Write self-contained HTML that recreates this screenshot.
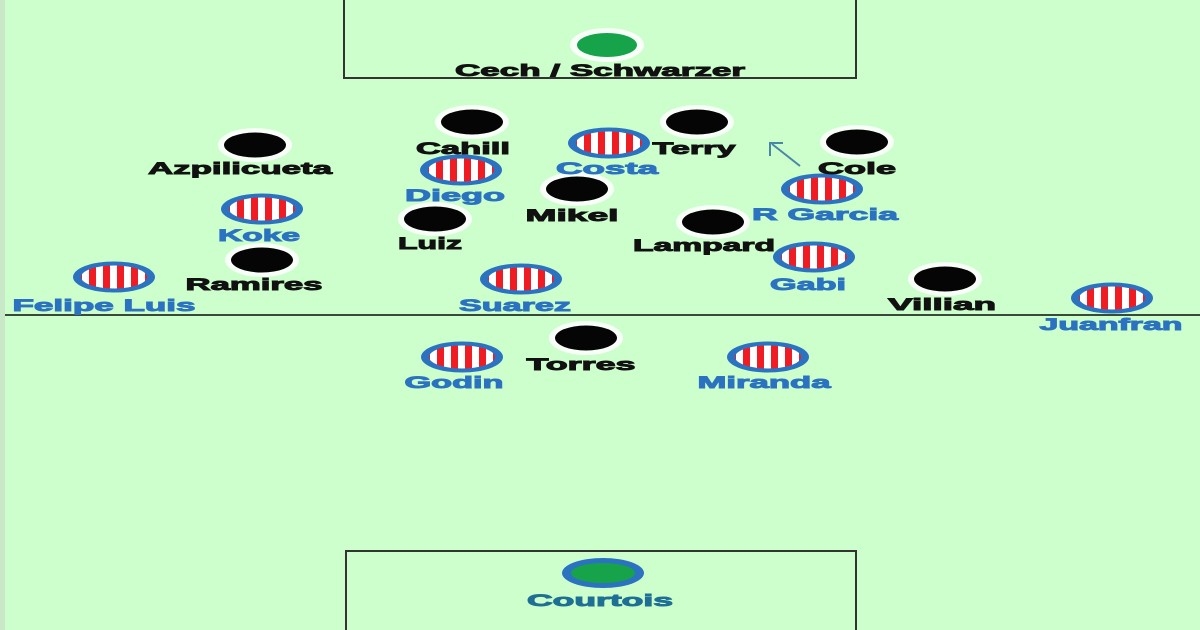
<!DOCTYPE html>
<html><head><meta charset="utf-8"><style>
html,body{margin:0;padding:0;background:#ccffcc;}
svg{display:block}
text{font-family:"Liberation Sans",Arial,sans-serif;font-weight:bold;font-size:17px;text-anchor:middle;stroke-width:0.9px}
.b{fill:#111;stroke:#111}
.a{fill:#2b72c0;stroke:#2b72c0}
</style></head><body>
<svg width="1200" height="630" viewBox="0 0 1200 630" xmlns="http://www.w3.org/2000/svg">
<defs>
<pattern id="st" patternUnits="userSpaceOnUse" width="14" height="40" x="3" y="0">
<rect width="14" height="40" fill="#fff"/><rect width="7" height="40" fill="#f01c24"/>
</pattern>
<g id="atm"><ellipse rx="41" ry="15.5" fill="#2b72c0"/><ellipse rx="33" ry="11.5" fill="url(#st)"/></g>
<g id="che"><ellipse rx="37" ry="17" fill="#fff" opacity="0.85"/><ellipse rx="31" ry="12.5" fill="#050505"/></g>
</defs>
<rect width="1200" height="630" fill="#ccffcc"/>
<rect x="0" y="0" width="5" height="630" fill="#c8e8c8"/>
<path d="M344 0 V78 H856 V0" fill="none" stroke="#333" stroke-width="2"/>
<path d="M346 630 V551 H856 V630" fill="none" stroke="#333" stroke-width="2"/>
<line x1="5" y1="315" x2="1200" y2="315" stroke="#3a4a3a" stroke-width="2"/>
<g stroke="#4a86a8" stroke-width="2" fill="none"><line x1="800" y1="166" x2="772" y2="144"/><polyline points="770,156 770,143 783,143"/></g>
<ellipse cx="607" cy="45" rx="37" ry="17" fill="#fff" opacity="0.85"/><ellipse cx="607" cy="45" rx="30" ry="12" fill="#17a34a"/>
<ellipse cx="603" cy="573" rx="41" ry="15" fill="#2b72c0"/><ellipse cx="603" cy="573" rx="32" ry="10" fill="#17a34a"/>
<use href="#che" x="255" y="145"/>
<use href="#che" x="472" y="122"/>
<use href="#che" x="697" y="122"/>
<use href="#che" x="857" y="142"/>
<use href="#che" x="577" y="189"/>
<use href="#che" x="435" y="219"/>
<use href="#che" x="713" y="222"/>
<use href="#che" x="262" y="260"/>
<use href="#che" x="945" y="279"/>
<use href="#che" x="586" y="338"/>
<use href="#atm" x="609" y="143"/>
<use href="#atm" x="461" y="170"/>
<use href="#atm" x="822" y="189"/>
<use href="#atm" x="262" y="209"/>
<use href="#atm" x="814" y="257"/>
<use href="#atm" x="114" y="277"/>
<use href="#atm" x="521" y="279"/>
<use href="#atm" x="1112" y="298"/>
<use href="#atm" x="462" y="357"/>
<use href="#atm" x="768" y="357"/>
<text class="b" x="600" y="76" textLength="290" lengthAdjust="spacingAndGlyphs">Cech / Schwarzer</text>
<text class="b" x="240" y="174" textLength="184" lengthAdjust="spacingAndGlyphs">Azpilicueta</text>
<text class="b" x="463" y="154" textLength="94" lengthAdjust="spacingAndGlyphs">Cahill</text>
<text class="b" x="694" y="154" textLength="83" lengthAdjust="spacingAndGlyphs">Terry</text>
<text class="b" x="857" y="174" textLength="78" lengthAdjust="spacingAndGlyphs">Cole</text>
<text class="a" x="607" y="174" textLength="102" lengthAdjust="spacingAndGlyphs">Costa</text>
<text class="a" x="455" y="201" textLength="100" lengthAdjust="spacingAndGlyphs">Diego</text>
<text class="b" x="572" y="221" textLength="93" lengthAdjust="spacingAndGlyphs">Mikel</text>
<text class="a" x="825" y="220" textLength="146" lengthAdjust="spacingAndGlyphs">R Garcia</text>
<text class="a" x="259" y="241" textLength="82" lengthAdjust="spacingAndGlyphs">Koke</text>
<text class="b" x="430" y="249" textLength="64" lengthAdjust="spacingAndGlyphs">Luiz</text>
<text class="b" x="704" y="251" textLength="142" lengthAdjust="spacingAndGlyphs">Lampard</text>
<text class="b" x="254" y="290" textLength="137" lengthAdjust="spacingAndGlyphs">Ramires</text>
<text class="a" x="808" y="290" textLength="76" lengthAdjust="spacingAndGlyphs">Gabi</text>
<text class="a" x="104" y="311" textLength="183" lengthAdjust="spacingAndGlyphs">Felipe Luis</text>
<text class="a" x="515" y="311" textLength="112" lengthAdjust="spacingAndGlyphs">Suarez</text>
<text class="b" x="942" y="310" textLength="108" lengthAdjust="spacingAndGlyphs">Villian</text>
<text class="a" x="1111" y="330" textLength="143" lengthAdjust="spacingAndGlyphs">Juanfran</text>
<text class="b" x="581" y="370" textLength="109" lengthAdjust="spacingAndGlyphs">Torres</text>
<text class="a" x="454" y="388" textLength="99" lengthAdjust="spacingAndGlyphs">Godin</text>
<text class="a" x="764" y="388" textLength="133" lengthAdjust="spacingAndGlyphs">Miranda</text>
<text x="600" y="606" textLength="146" lengthAdjust="spacingAndGlyphs" fill="#1f6f95" stroke="#1f6f95">Courtois</text>
</svg>
</body></html>
